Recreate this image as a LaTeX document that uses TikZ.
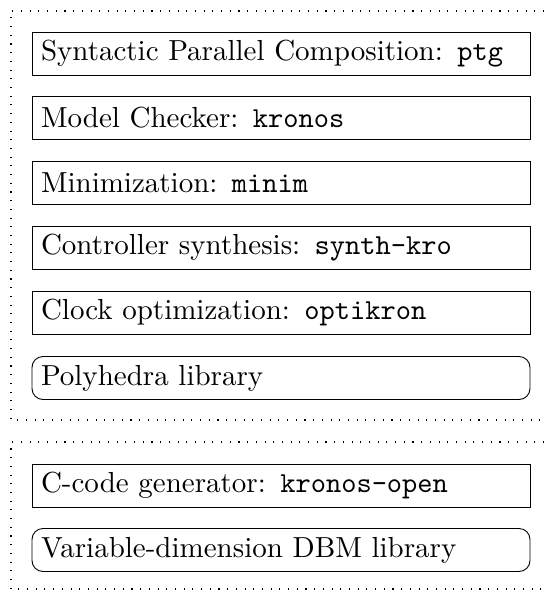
\documentclass[tikz,border=0pt]{standalone}
\usepackage{fontspec}
\setmainfont{lmroman10-regular.otf}
\setmonofont{lmmono10-regular.otf}
\begin{document}
\begin{tikzpicture}[x=1pt,y=-1pt,
  box/.style={draw,line width=0.9pt,rectangle,text width=480pt,inner xsep=9pt,inner ysep=0pt,minimum height=43pt,align=left,font=\fontsize{29}{34}\selectfont},
  rbox/.style={box,rounded corners=11pt},
  grp/.style={line width=1.1pt,dash pattern=on 1.1pt off 7.6pt}]
\useasboundingbox (0,0) rectangle (544,594);
\draw[grp] (544,11) -- (11,11) -- (11,420) -- (544,420);
\draw[grp] (544,442) -- (11,442) -- (11,589) -- (544,589);
\node[box] (b1) at (281,53.5) {Syntactic Parallel Composition: \texttt{ptg}};
\node[box] (b2) at (281,118) {Model Checker: \texttt{kronos}};
\node[box] (b3) at (281,183) {Minimization: \texttt{minim}};
\node[box] (b4) at (281,247.5) {Controller synthesis: \texttt{synth-kro}};
\node[box] (b5) at (281,312.5) {Clock optimization: \texttt{optikron}};
\node[rbox] (b6) at (281,378) {Polyhedra library};
\node[box] (b7) at (281,485.5) {C-code generator: \texttt{kronos-open}};
\node[rbox] (b8) at (281,550) {Variable-dimension DBM library};
\end{tikzpicture}
\end{document}
